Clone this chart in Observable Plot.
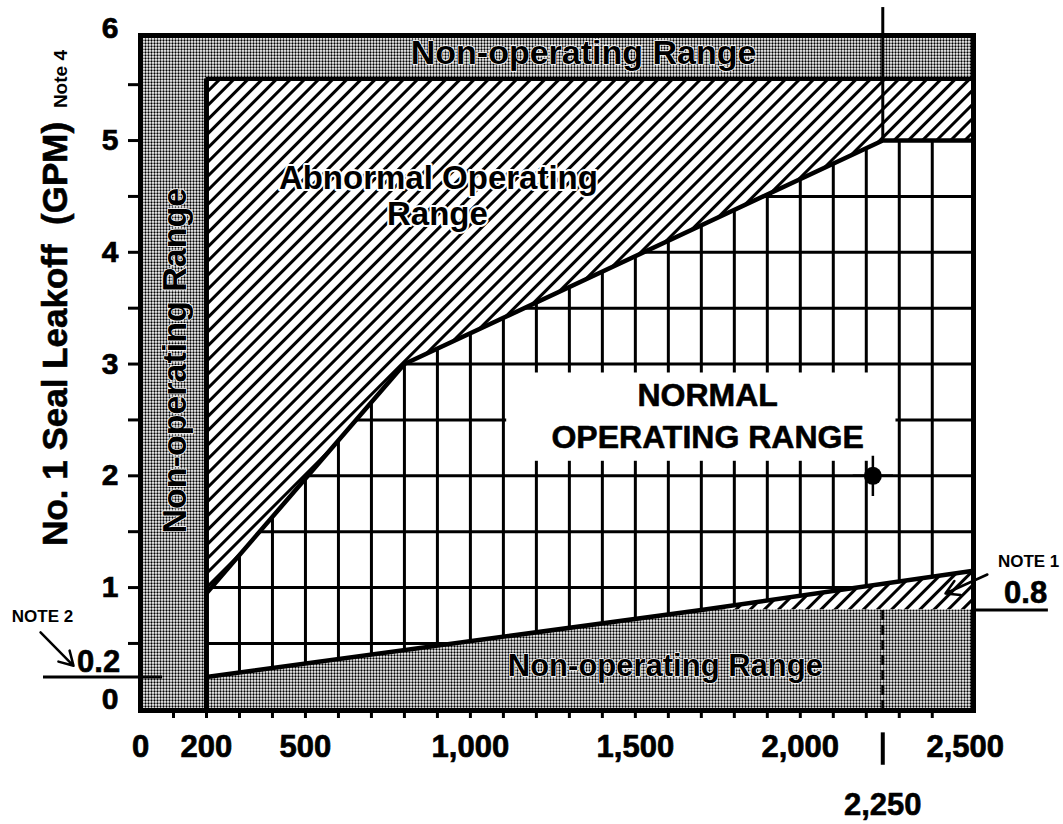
<!DOCTYPE html>
<html>
<head>
<meta charset="utf-8">
<script src="https://cdn.jsdelivr.net/npm/d3@7"></script>
<script src="https://cdn.jsdelivr.net/npm/@observablehq/plot@0.6"></script>
<style>
  html, body { margin: 0; padding: 0; background: #fff; }
  #chart svg { display: block; }
  #chart g[aria-label$="tick label"] text { stroke: black; stroke-width: 0.7px; }
</style>
</head>
<body>
<div id="chart"></div>
<script>
// ---------------- data ----------------
// axis tick labels
const xTickValues = [0, 200, 500, 1000, 1500, 2000, 2500];
const xTickLabels = ["0", "200", "500", "1,000", "1,500", "2,000", "2,500"];
const yTickValues = [0, 1, 2, 3, 4, 5, 6];
const yTickLabels = ["0", "1", "2", "3", "4", "5", "6"];
// minor tick marks
const xMinorTicks = [100, 200, 300, 400, 500, 600, 700, 800, 900, 1000, 1100, 1200,
                     1300, 1400, 1500, 1600, 1700, 1800, 1900, 2000, 2100, 2200, 2300, 2400];
const yMinorTicks = [0.5, 1, 1.5, 2, 2.5, 3, 3.5, 4, 4.5, 5, 5.5];
// grid of the normal operating range
const gridX = [300, 400, 500, 600, 700, 800, 900, 1000, 1100, 1200, 1300, 1400, 1500,
               1600, 1700, 1800, 1900, 2000, 2100, 2200, 2300, 2400];
const gridY = [0.5, 1, 1.5, 2, 2.5, 3, 3.5, 4, 4.5];
// region boundaries (x: speed, y: leakoff GPM)
const upperBoundary = [
  {x: 200, y: 0.95}, {x: 800, y: 3.0}, {x: 2250, y: 5.0}, {x: 2525, y: 5.0}
];
const lowerBoundary = [
  {x: 200, y: 0.2}, {x: 1700, y: 0.8}, {x: 2525, y: 1.15}
];
const chartExtent = {xMin: 0, xMax: 2525, yMin: -0.1, yMax: 5.94};
const minSpeed = 200;        // left non-operating band limit
const maxLeakoff = 5.55;     // top non-operating band limit
const note1Level = 0.8;
const note2Level = 0.2;
const markerSpeed = 2250;
const operatingPoint = [{x: 2220, y: 2.0}];
// texts
const bandLabel = "Non-operating Range";
const abnormalLabel = ["Abnormal Operating", "Range"];
const normalLabel = ["NORMAL", "OPERATING RANGE"];
const yTitle = "No. 1 Seal Leakoff\u00a0 (GPM)";
const yTitleNote = "Note 4";

// ---------------- chart ----------------
const xLabelMap = new Map(xTickValues.map((v, i) => [v, xTickLabels[i]]));
const yLabelMap = new Map(yTickValues.map((v, i) => [v, yTickLabels[i]]));
const FONT = "'Liberation Sans', Arial, Helvetica, sans-serif";
const E = chartExtent;

const bold = {fontWeight: "bold", fontFamily: FONT, fill: "black"};
const heavy = {...bold, stroke: "black", strokeWidth: 0.6};

const svg = Plot.plot({
  width: 1063,
  height: 824,
  marginLeft: 140,
  marginRight: 90,
  marginTop: 35,
  marginBottom: 114,
  style: {fontFamily: FONT, background: "white", color: "black", overflow: "visible"},
  x: {domain: [E.xMin, E.xMax], label: null},
  y: {domain: [E.yMin, E.yMax], label: null},
  marks: [
    // whole frame: stippled non-operating range
    Plot.rect([E], {x1: "xMin", x2: "xMax", y1: "yMin", y2: "yMax", fill: "url(#stipple)"}),
    // inner operating area
    Plot.rect([E], {x1: minSpeed, x2: "xMax", y1: "yMin", y2: maxLeakoff, fill: "white"}),
    // grid
    Plot.ruleX(gridX, {y1: E.yMin, y2: maxLeakoff, stroke: "black", strokeWidth: 3}),
    Plot.ruleY(gridY, {x1: minSpeed, x2: E.xMax, stroke: "black", strokeWidth: 3}),
    // white box behind the NORMAL label
    Plot.rect([E], {x1: 1110, x2: 2290, y1: 2.13, y2: 2.92, fill: "white"}),
    // abnormal operating range (hatched)
    Plot.areaY(upperBoundary, {x: "x", y1: "y", y2: maxLeakoff, fill: "url(#hatch)"}),
    Plot.areaY(lowerBoundary.filter(d => d.y >= note1Level), {x: "x", y1: note1Level, y2: "y", fill: "url(#hatch)"}),
    // lower non-operating range (stippled)
    Plot.areaY(lowerBoundary, {x: "x", y1: E.yMin, y2: d => Math.min(d.y, note1Level), fill: "url(#stipple)"}),
    // boundary lines
    Plot.line(upperBoundary, {x: "x", y: "y", stroke: "black", strokeWidth: 4.5}),
    Plot.line(lowerBoundary, {x: "x", y: "y", stroke: "black", strokeWidth: 4.5}),
    Plot.ruleX([minSpeed], {y1: E.yMin, y2: maxLeakoff, stroke: "black", strokeWidth: 5}),
    Plot.ruleY([maxLeakoff], {x1: minSpeed, x2: E.xMax, stroke: "black", strokeWidth: 4}),
    Plot.frame({stroke: "black", strokeWidth: 5}),
    // 2,250 marker line
    Plot.ruleX([markerSpeed], {y1: 5.0, y2: 6.19, stroke: "black", strokeWidth: 3}),
    Plot.ruleX([markerSpeed], {y1: E.yMin, y2: note1Level, stroke: "black", strokeWidth: 3, strokeDasharray: "10,5"}),
    Plot.ruleX([markerSpeed], {y1: -0.3, y2: -0.59, stroke: "black", strokeWidth: 4}),
    // axes
    Plot.axisX(xMinorTicks, {anchor: "bottom", tickSize: 8, strokeWidth: 3, tickFormat: () => "", label: null}),
    Plot.axisX(xTickValues, {anchor: "bottom", tickSize: 0, tickPadding: 24, tickFormat: d => xLabelMap.get(d),
      fontSize: 31, fontWeight: "bold", label: null}),
    Plot.axisY(yMinorTicks, {anchor: "left", tickSize: 12, strokeWidth: 3, tickFormat: () => "", label: null}),
    Plot.axisY(yTickValues, {anchor: "left", tickSize: 0, tickPadding: 22, tickFormat: d => yLabelMap.get(d),
      fontSize: 30, fontWeight: "bold", label: null}),
    Plot.text(["2,250"], {x: markerSpeed, y: -0.95, text: d => d, fontSize: 31, ...heavy}),
    // y-axis title
    Plot.text([yTitle], {x: -222, y: 3.27, text: d => d, rotate: -90, lineAnchor: "bottom", fontSize: 35, ...heavy}),
    Plot.text([yTitleNote], {x: -222, y: 5.55, text: d => d, rotate: -90, lineAnchor: "bottom", fontSize: 19, ...bold}),
    // band labels
    Plot.text([bandLabel], {x: 1343, y: 5.78, text: d => d, fontSize: 34, ...bold, stroke: "white", strokeWidth: 1.5, paintOrder: "stroke"}),
    Plot.text([bandLabel], {x: 106, y: 3.03, text: d => d, rotate: -90, fontSize: 34, ...bold, stroke: "white", strokeWidth: 1.5, paintOrder: "stroke"}),
    Plot.text([bandLabel], {x: 1591, y: 0.30, text: d => d, fontSize: 31, ...bold, stroke: "white", strokeWidth: 1.5, paintOrder: "stroke"}),
    // abnormal label
    Plot.text([abnormalLabel[0]], {x: 903, y: 4.66, text: d => d, fontSize: 33, ...bold, stroke: "white", strokeWidth: 4, paintOrder: "stroke"}),
    Plot.text([abnormalLabel[1]], {x: 900, y: 4.34, text: d => d, fontSize: 33, ...bold, stroke: "white", strokeWidth: 4, paintOrder: "stroke"}),
    // normal label
    Plot.text([normalLabel[0]], {x: 1719, y: 2.72, text: d => d, fontSize: 32, ...heavy}),
    Plot.text([normalLabel[1]], {x: 1719, y: 2.34, text: d => d, fontSize: 32, ...heavy}),
    // operating point
    Plot.dot(operatingPoint, {x: "x", y: "y", r: 9, fill: "black"}),
    Plot.dot(operatingPoint, {x: "x", y: "y", symbol: "plus", r: 13, stroke: "black", strokeWidth: 2.5}),
    // NOTE 2
    Plot.text(["NOTE 2"], {x: -297, y: 0.74, text: d => d, fontSize: 17, ...bold}),
    Plot.arrow([E], {x1: -303, y1: 0.60, x2: -203, y2: 0.30, stroke: "black", strokeWidth: 2.5, headLength: 10}),
    Plot.text(["0.2"], {x: -127, y: 0.33, text: d => d, fontSize: 31, ...heavy}),
    Plot.ruleY([note2Level], {x1: -294, x2: 67, stroke: "black", strokeWidth: 3}),
    // NOTE 1
    Plot.text(["NOTE 1"], {x: 2692, y: 1.23, text: d => d, fontSize: 17, ...bold}),
    Plot.arrow([E], {x1: 2567, y1: 1.117, x2: 2440, y2: 0.947, stroke: "black", strokeWidth: 2.5, headLength: 10}),
    Plot.text(["0.8"], {x: 2683, y: 0.95, text: d => d, fontSize: 31, ...heavy}),
    Plot.ruleY([note1Level], {x1: E.xMax, x2: 2752, stroke: "black", strokeWidth: 3})
  ]
});

// fill patterns: stipple dots and diagonal hatch
const defs = d3.select(svg).insert("defs", ":first-child");
const st = defs.append("pattern").attr("id", "stipple").attr("patternUnits", "userSpaceOnUse")
  .attr("width", 3).attr("height", 3);
st.append("rect").attr("width", 3).attr("height", 3).attr("fill", "#fff");
st.append("circle").attr("cx", 1.5).attr("cy", 1.5).attr("r", 1.15).attr("fill", "#000");
const ht = defs.append("pattern").attr("id", "hatch").attr("patternUnits", "userSpaceOnUse")
  .attr("width", 10).attr("height", 10).attr("patternTransform", "rotate(45)");
ht.append("rect").attr("width", 10).attr("height", 10).attr("fill", "#fff");
ht.append("rect").attr("x", 0).attr("width", 3).attr("height", 10).attr("fill", "#000");

document.getElementById("chart").append(svg);
</script>
</body>
</html>
